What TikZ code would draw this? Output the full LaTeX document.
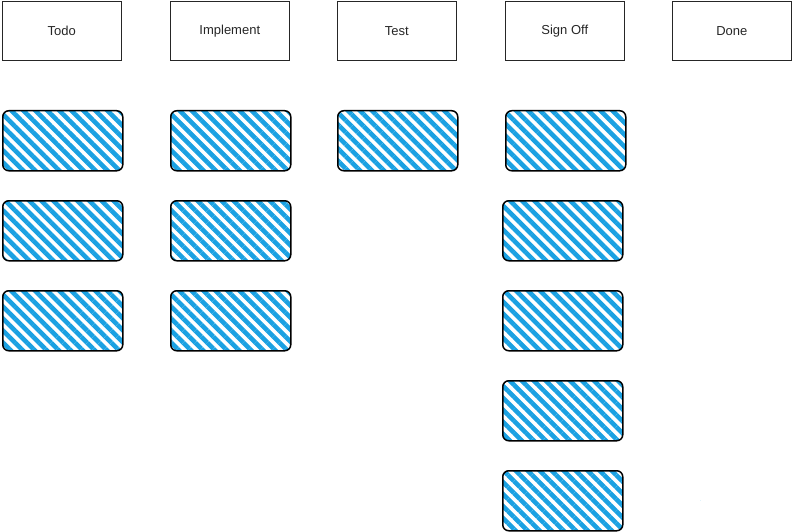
\documentclass[tikz,border=0pt]{standalone}
\usepackage{fontspec}
\setmainfont{Liberation Sans}
\usetikzlibrary{patterns.meta}
\definecolor{hatchblue}{HTML}{1BA1E2}
\tikzset{
  header/.style={draw=black!85, line width=0.6pt, minimum width=119pt, minimum height=59pt, inner sep=0pt, anchor=north west, font=\fontsize{13}{15}\selectfont, text=black!85},
  hatch/.style={pattern={Lines[angle=-45, distance=8.5pt, line width=4.6pt]}, pattern color=hatchblue},
  card/.style={draw=black, line width=1.5pt, rounded corners=6pt, minimum width=120pt, minimum height=60pt, inner sep=0pt, anchor=north west, hatch}
}
\begin{document}
\begin{tikzpicture}[x=1pt,y=-1pt]
\useasboundingbox (0,0) rectangle (792,532);
% first (invisible) use of the pattern
\path[hatch] (700,500) rectangle (700.01,500.01);
% headers
\node[header] (h1) at (2,1) {Todo};
\node[header] (h2) at (170,1) {Implement};
\node[header] (h3) at (337,1) {Test};
\node[header] (h4) at (505,1) {Sign Off};
\node[header] (h5) at (672,1) {Done};
% Todo column
\node[card] (t1) at (2,110) {};
\node[card] (t2) at (2,200) {};
\node[card] (t3) at (2,290) {};
% Implement column
\node[card] (i1) at (170,110) {};
\node[card] (i2) at (170,200) {};
\node[card] (i3) at (170,290) {};
% Test column
\node[card] (e1) at (337,110) {};
% Sign Off column
\node[card] (s1) at (505,110) {};
\node[card] (s2) at (502,200) {};
\node[card] (s3) at (502,290) {};
\node[card] (s4) at (502,380) {};
\node[card] (s5) at (502,470) {};
\end{tikzpicture}
\end{document}
